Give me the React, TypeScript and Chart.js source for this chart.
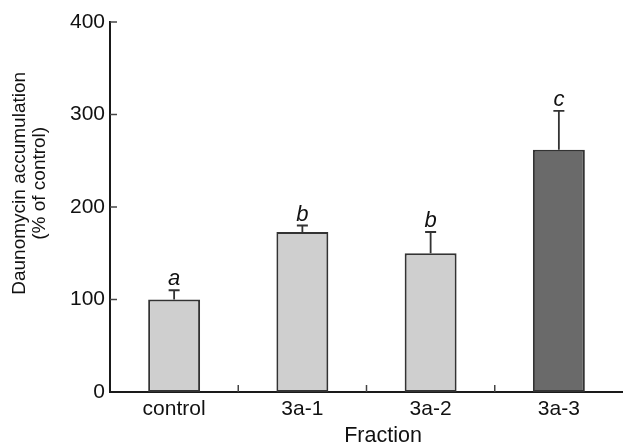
import React, { useEffect, useRef } from "react";
import { Chart, registerables } from "chart.js";

Chart.register(...registerables);

const categories = ["control", "3a-1", "3a-2", "3a-3"];
const values = [100, 173, 150, 262];
const errors = [10, 7, 23, 42];
const letters = ["a", "b", "b", "c"];
const barColors = ["#cfcfcf", "#cfcfcf", "#cfcfcf", "#6a6a6a"];
const yTicks = [0, 100, 200, 300, 400];
const yTitleLines = ["Daunomycin accumulation", "(% of control)"];
const xTitle = "Fraction";

const FONT = "'Liberation Sans', Arial, Helvetica, sans-serif";

const decorPlugin = {
  id: "decor",
  afterDatasetsDraw(chart: any) {
    const ctx = chart.ctx;
    const xs = chart.scales.x;
    const ys = chart.scales.y;
    const area = chart.chartArea;
    const meta = chart.getDatasetMeta(0);
    ctx.save();
    // error bars + letters
    ctx.strokeStyle = "#333";
    ctx.lineWidth = 1.8;
    values.forEach((v, i) => {
      const bar = meta.data[i];
      const x = bar.x;
      const y0 = ys.getPixelForValue(v);
      const y1 = ys.getPixelForValue(v + errors[i]);
      ctx.beginPath();
      ctx.moveTo(x, y0);
      ctx.lineTo(x, y1);
      ctx.moveTo(x - 5.5, y1);
      ctx.lineTo(x + 5.5, y1);
      ctx.stroke();
      ctx.fillStyle = "#111";
      ctx.font = `italic 22px ${FONT}`;
      ctx.textAlign = "center";
      ctx.textBaseline = "alphabetic";
      ctx.fillText(letters[i], x, y1 - 5);
    });
    // inner ticks on y
    ctx.strokeStyle = "#444";
    ctx.lineWidth = 1.5;
    yTicks.forEach((t) => {
      if (t === 0) return;
      const y = ys.getPixelForValue(t);
      ctx.beginPath();
      ctx.moveTo(area.left, y);
      ctx.lineTo(area.left + 7, y);
      ctx.stroke();
    });
    // inner ticks on x between categories
    for (let i = 0; i < categories.length - 1; i++) {
      const xm = (xs.getPixelForValue(i) + xs.getPixelForValue(i + 1)) / 2;
      ctx.beginPath();
      ctx.moveTo(xm, area.bottom);
      ctx.lineTo(xm, area.bottom - 7);
      ctx.stroke();
    }
    // axis titles
    ctx.fillStyle = "#111";
    ctx.font = `19px ${FONT}`;
    ctx.textAlign = "center";
    ctx.textBaseline = "middle";
    const cy = area.top + (area.bottom - area.top) * 0.436;
    ctx.save();
    ctx.translate(20, cy);
    ctx.rotate(-Math.PI / 2);
    ctx.fillText(yTitleLines[0], 0, 0);
    ctx.restore();
    ctx.save();
    ctx.translate(40, cy);
    ctx.rotate(-Math.PI / 2);
    ctx.fillText(yTitleLines[1], 0, 0);
    ctx.restore();
    ctx.font = `21.5px ${FONT}`;
    ctx.fillText(xTitle, 383, 436);
    ctx.restore();
  },
};

export default function App() {
  const ref = useRef<HTMLCanvasElement>(null);
  useEffect(() => {
    const chart = new Chart(ref.current as HTMLCanvasElement, {
      type: "bar",
      data: {
        labels: categories,
        datasets: [
          {
            data: values,
            backgroundColor: barColors,
            borderColor: "#333",
            borderWidth: 2,
            borderSkipped: false,
            categoryPercentage: 1,
            barPercentage: 0.405,
          },
        ],
      },
      options: {
        responsive: false,
        animation: false,
        layout: { padding: { top: 22, right: 0, left: 0, bottom: 0 } },
        plugins: { legend: { display: false }, tooltip: { enabled: false } },
        scales: {
          x: {
            type: "category",
            offset: true,
            grid: { display: false, drawTicks: false },
            border: { display: true, color: "#1a1a1a", width: 2 },
            ticks: { color: "#111", font: { family: FONT, size: 21 }, padding: 5 },
            afterFit: (s: any) => {
              s.height = 54;
            },
          },
          y: {
            min: 0,
            max: 400,
            grid: { display: false, drawTicks: false },
            border: { display: true, color: "#1a1a1a", width: 2 },
            ticks: {
              stepSize: 100,
              color: "#111",
              font: { family: FONT, size: 21 },
              padding: 5,
            },
            afterFit: (s: any) => {
              s.width = 110;
            },
          },
        },
      },
      plugins: [decorPlugin],
    } as any);
    return () => chart.destroy();
  }, []);
  return (
    <div style={{ position: "absolute", left: 0, top: 0, width: 623, height: 446, background: "#fff" }}>
      <canvas ref={ref} width={623} height={446} />
    </div>
  );
}
